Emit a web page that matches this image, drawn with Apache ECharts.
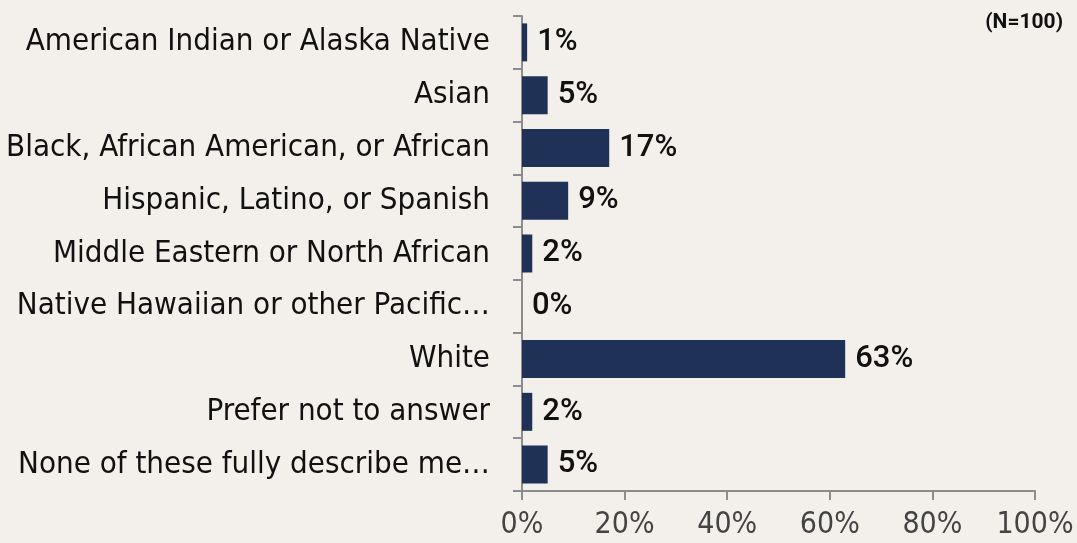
<!DOCTYPE html>
<html lang="en">
<head>
<meta charset="UTF-8">
<title>Race / ethnicity</title>
<script src="https://cdn.jsdelivr.net/npm/echarts@6/dist/echarts.min.js"></script>
<style>
  html, body { margin: 0; padding: 0; background: #F3EFEB; }
  #main { width: 1077px; height: 543px; }
</style>
</head>
<body>
<div id="main"></div>
<script>
// categories top to bottom
var categories = [
  'American Indian or Alaska Native',
  'Asian',
  'Black, African American, or African',
  'Hispanic, Latino, or Spanish',
  'Middle Eastern or North African',
  'Native Hawaiian or other Pacific\u2026',
  'White',
  'Prefer not to answer',
  'None of these fully describe me\u2026'
];
var shares = [1, 5, 17, 9, 2, 0, 63, 2, 5];
var xTicks = [0, 20, 40, 60, 80, 100];

var labelFont = '"Liberation Sans Narrow", "DejaVu Sans Condensed", sans-serif';

var chart = echarts.init(document.getElementById('main'));
chart.setOption({
  backgroundColor: '#F3EFEB',
  animation: false,
  title: {
    text: '(N=100)',
    right: 9,
    top: 7,
    textStyle: { fontFamily: 'Roboto', fontWeight: 'bold', fontSize: 21, color: '#111' }
  },
  grid: { left: 522, right: 42, top: 16, bottom: 52 },
  xAxis: {
    type: 'value',
    min: xTicks[0],
    max: xTicks[xTicks.length - 1],
    interval: 20,
    splitLine: { show: false },
    axisLine: { show: true, lineStyle: { color: '#8c8c8c', width: 2 } },
    axisTick: { show: true, length: 9, lineStyle: { color: '#8c8c8c', width: 2 } },
    axisLabel: {
      formatter: '{value}%',
      margin: 19,
      fontFamily: labelFont,
      fontSize: 30,
      color: '#444'
    }
  },
  yAxis: {
    type: 'category',
    inverse: true,
    data: categories,
    axisLine: { show: true, lineStyle: { color: '#8c8c8c', width: 2 } },
    axisTick: { show: true, length: 9, lineStyle: { color: '#8c8c8c', width: 2 } },
    axisLabel: {
      margin: 32,
      fontFamily: labelFont,
      fontSize: 31,
      color: '#111'
    }
  },
  series: [{
    type: 'bar',
    data: shares,
    barWidth: '72%',
    itemStyle: { color: '#1F3157' },
    label: {
      show: true,
      position: 'right',
      distance: 10,
      formatter: '{c}%',
      fontFamily: 'Roboto',
      fontWeight: 500,
      fontSize: 31,
      color: '#111'
    }
  }]
});
</script>
</body>
</html>
